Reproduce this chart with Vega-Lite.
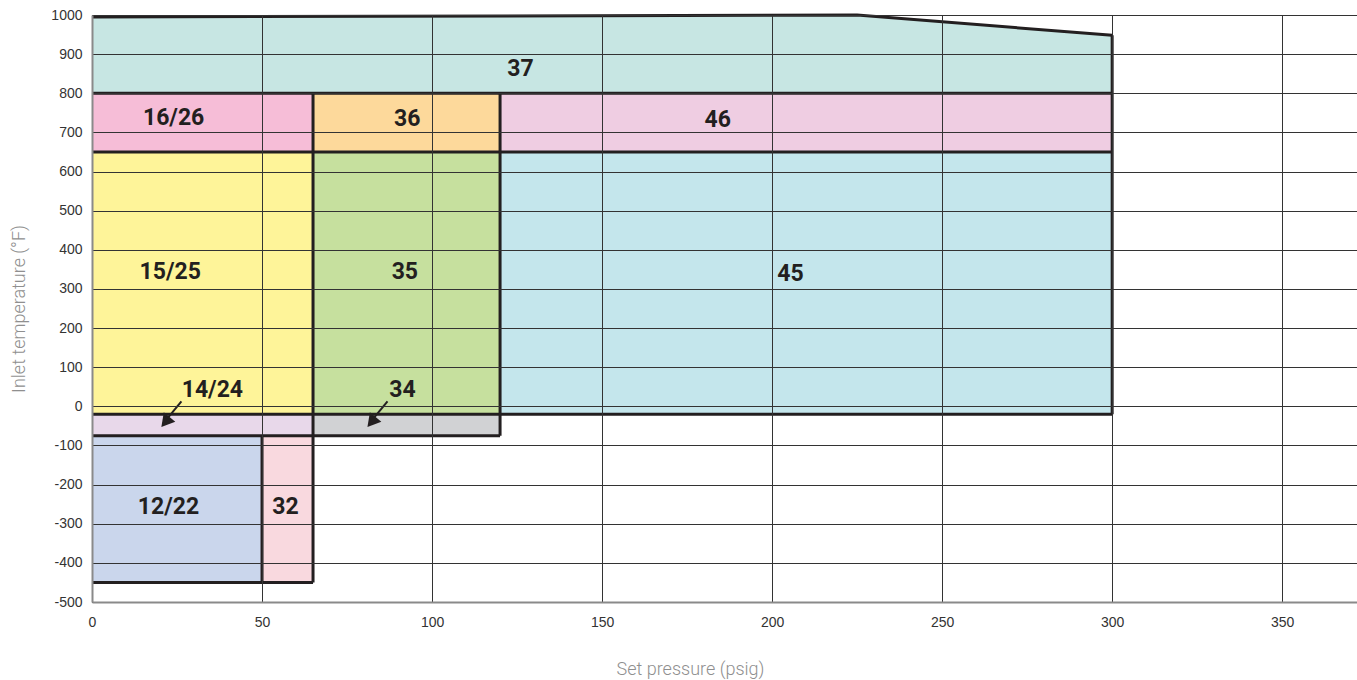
{
  "$schema": "https://vega.github.io/schema/vega-lite/v6.json",
  "autosize": "none",
  "padding": {"left": 92, "top": 15, "right": 0, "bottom": 78},
  "width": 1265,
  "height": 587,
  "config": {
    "view": {"stroke": null},
    "axis": {
      "labelFont": "Liberation Sans",
      "labelFontSize": 14,
      "labelColor": "#333333",
      "labelOverlap": false,
      "labelFlush": false,
      "ticks": false,
      "domainColor": "#8a8a8a",
      "domainWidth": 2,
      "gridColor": "#333333",
      "gridWidth": 1,
      "titleFont": "Roboto",
      "titleFontWeight": 300,
      "titleFontSize": 18,
      "titleColor": "#8f8f8f"
    }
  },
  "datasets": {
    "zones": [
      {"zone": "12/22", "x": 0, "x2": 50, "y": -450, "y2": -75},
      {"zone": "32", "x": 50, "x2": 65, "y": -450, "y2": -75},
      {"zone": "14/24", "x": 0, "x2": 65, "y": -75, "y2": -20},
      {"zone": "34", "x": 65, "x2": 120, "y": -75, "y2": -20},
      {"zone": "15/25", "x": 0, "x2": 65, "y": -20, "y2": 650},
      {"zone": "35", "x": 65, "x2": 120, "y": -20, "y2": 650},
      {"zone": "45", "x": 120, "x2": 300, "y": -20, "y2": 650},
      {"zone": "16/26", "x": 0, "x2": 65, "y": 650, "y2": 800},
      {"zone": "36", "x": 65, "x2": 120, "y": 650, "y2": 800},
      {"zone": "46", "x": 120, "x2": 300, "y": 650, "y2": 800}
    ],
    "zone37": [
      {"x": 0, "y": 995},
      {"x": 225, "y": 1000},
      {"x": 300, "y": 948}
    ],
    "borders": [
      {"x": 0, "x2": 300, "y": 800, "y2": 800},
      {"x": 0, "x2": 300, "y": 650, "y2": 650},
      {"x": 0, "x2": 300, "y": -20, "y2": -20},
      {"x": 0, "x2": 120, "y": -75, "y2": -75},
      {"x": 0, "x2": 65, "y": -450, "y2": -450},
      {"x": 65, "x2": 65, "y": -450, "y2": 800},
      {"x": 120, "x2": 120, "y": -75, "y2": 800},
      {"x": 300, "x2": 300, "y": -20, "y2": 948},
      {"x": 50, "x2": 50, "y": -450, "y2": -75}
    ],
    "arrows": [
      {"x": 26.3, "y": 12.8, "x2": 21.5, "y2": -38},
      {"x": 86.9, "y": 12.8, "x2": 82.1, "y2": -38}
    ],
    "heads": [
      {"x": 21.6, "y": -40},
      {"x": 82.2, "y": -40}
    ],
    "labels": [
      {"label": "37", "x": 126, "y": 862},
      {"label": "16/26", "x": 24, "y": 736},
      {"label": "36", "x": 92.7, "y": 734},
      {"label": "46", "x": 184, "y": 731},
      {"label": "15/25", "x": 23, "y": 342},
      {"label": "35", "x": 92, "y": 342},
      {"label": "45", "x": 205.4, "y": 337},
      {"label": "14/24", "x": 35.4, "y": 43},
      {"label": "34", "x": 91.3, "y": 43},
      {"label": "12/22", "x": 22.5, "y": -257},
      {"label": "32", "x": 56.9, "y": -257}
    ]
  },
  "layer": [
    {
      "data": {"name": "zones"},
      "mark": {"type": "rect"},
      "encoding": {
        "x": {
          "field": "x", "type": "quantitative",
          "scale": {"domain": [0, 372], "nice": false, "zero": false},
          "axis": {
            "title": "Set pressure (psig)",
            "values": [0, 50, 100, 150, 200, 250, 300, 350],
            "tickCount": 10,
            "labelPadding": 13,
            "titlePadding": 31,
            "titleX": 598,
            "titleAnchor": "middle",
            "zindex": 1
          }
        },
        "x2": {"field": "x2"},
        "y": {
          "field": "y", "type": "quantitative",
          "scale": {"domain": [-500, 1000], "nice": false, "zero": false},
          "axis": {
            "title": "Inlet temperature (°F)",
            "values": [-500, -400, -300, -200, -100, 0, 100, 200, 300, 400, 500, 600, 700, 800, 900, 1000],
            "tickCount": 20,
            "labelExpr": "'' + datum.value",
            "labelPadding": 10,
            "titlePadding": 22,
            "zindex": 1
          }
        },
        "y2": {"field": "y2"},
        "fill": {
          "field": "zone", "type": "nominal", "legend": null,
          "scale": {
            "domain": ["12/22", "32", "14/24", "34", "15/25", "35", "45", "16/26", "36", "46"],
            "range": ["#cad6ec", "#f9d9df", "#e8d8ea", "#d1d2d4", "#fef499", "#c6e09e", "#c4e6ec", "#f6bdd7", "#fdd99b", "#efcde2"]
          }
        }
      }
    },
    {
      "data": {"name": "zone37"},
      "mark": {"type": "area", "color": "#c7e6e3", "opacity": 1},
      "encoding": {
        "x": {"field": "x", "type": "quantitative"},
        "y": {"field": "y", "type": "quantitative"},
        "y2": {"datum": 800}
      }
    },
    {
      "data": {"name": "zone37"},
      "mark": {"type": "line", "color": "#231f20", "strokeWidth": 3},
      "encoding": {
        "x": {"field": "x", "type": "quantitative"},
        "y": {"field": "y", "type": "quantitative"}
      }
    },
    {
      "data": {"name": "borders"},
      "mark": {"type": "rule", "color": "#231f20", "strokeWidth": 3},
      "encoding": {
        "x": {"field": "x", "type": "quantitative"},
        "x2": {"field": "x2"},
        "y": {"field": "y", "type": "quantitative"},
        "y2": {"field": "y2"}
      }
    },
    {
      "data": {"name": "arrows"},
      "mark": {"type": "rule", "color": "#231f20", "strokeWidth": 2},
      "encoding": {
        "x": {"field": "x", "type": "quantitative"},
        "x2": {"field": "x2"},
        "y": {"field": "y", "type": "quantitative"},
        "y2": {"field": "y2"}
      }
    },
    {
      "data": {"name": "heads"},
      "mark": {"type": "point", "shape": "triangle-up", "filled": true, "color": "#231f20", "opacity": 1, "size": 220, "angle": 219.5},
      "encoding": {
        "x": {"field": "x", "type": "quantitative"},
        "y": {"field": "y", "type": "quantitative"}
      }
    },
    {
      "data": {"name": "labels"},
      "mark": {"type": "text", "font": "Roboto", "fontWeight": "bold", "fontSize": 23, "color": "#231f20", "align": "center", "baseline": "middle"},
      "encoding": {
        "x": {"field": "x", "type": "quantitative"},
        "y": {"field": "y", "type": "quantitative"},
        "text": {"field": "label"}
      }
    }
  ]
}
